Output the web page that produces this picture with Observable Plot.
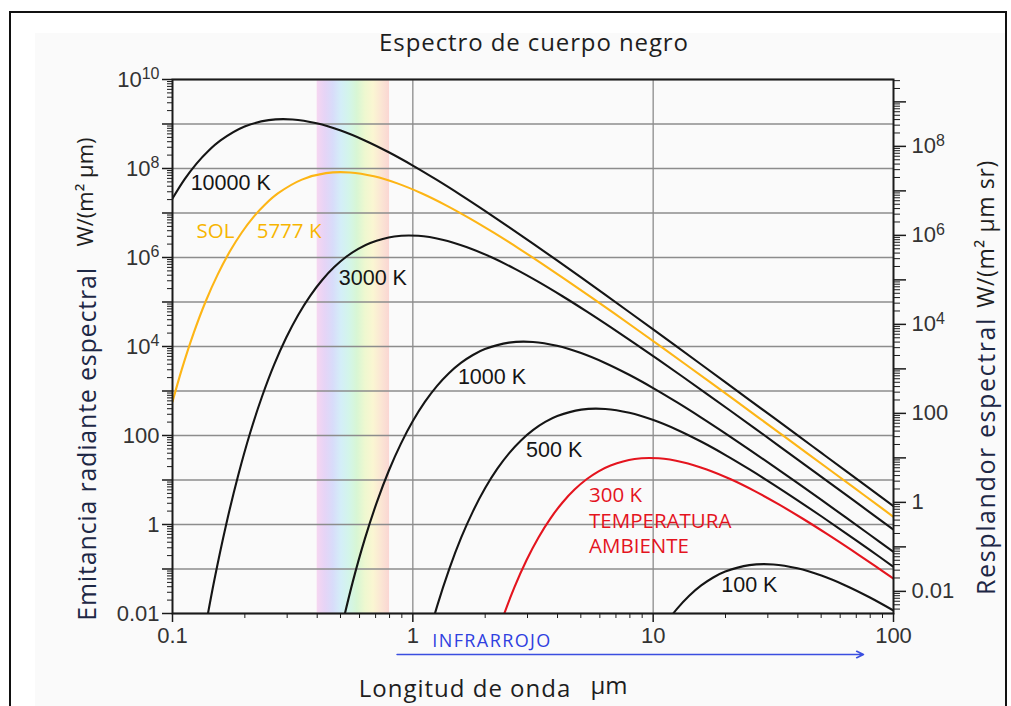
<!DOCTYPE html>
<html><head><meta charset="utf-8">
<script src="https://cdn.jsdelivr.net/npm/d3@7"></script>
<script src="https://cdn.jsdelivr.net/npm/@observablehq/plot@0.6"></script>
<style>
html,body{margin:0;padding:0;background:#fff}
body{position:relative;width:1011px;height:706px;overflow:hidden}
#border{position:absolute;left:9px;top:11px;width:998px;height:760px;border:2px solid #111;box-sizing:border-box}
#panel{position:absolute;left:35px;top:33px;width:970px;height:680px;background:#fafafa}
#chart{position:absolute;left:0;top:0}
.t{position:absolute;white-space:nowrap;font-family:"Open Sans",sans-serif;color:#1e1e1e;line-height:1}
.c{transform:translate(-50%,-50%)}
.r{transform:translate(-50%,-50%) rotate(-90deg)}
</style></head>
<body>
<div id="panel"></div>
<div id="chart"></div>
<div id="border"></div>
<div class="t c" style="left:534px;top:42px;font-size:24px;letter-spacing:0.9px">Espectro de cuerpo negro</div>
<div class="t r" style="left:84px;top:192px;font-size:22px">W/(m² µm)</div>
<div class="t r" style="left:86px;top:444px;font-size:25px;letter-spacing:0.8px;color:#1d2745">Emitancia radiante espectral</div>
<div class="t r" style="left:985px;top:234px;font-size:23px;letter-spacing:0.6px">W/(m² µm sr)</div>
<div class="t r" style="left:985px;top:456px;font-size:25px;letter-spacing:1.6px;color:#1d2745">Resplandor espectral</div>
<div class="t c" style="left:465px;top:688px;font-size:24px;letter-spacing:1px">Longitud de onda</div>
<div class="t c" style="left:609px;top:685px;font-size:24px">µm</div>
<div class="t c" style="left:492px;top:640px;font-size:18px;letter-spacing:1.4px;color:#2f40e0">INFRARROJO</div>
<script>
// Spectral radiant emittance W/(m² µm): [wavelength µm, value]
const curve10000 = [[0.1,2.111e7],[0.1122,5.675e7],[0.12589,1.287e8],[0.14125,2.508e8],[0.15849,4.272e8],[0.19953,8.745e8],[0.25119,1.222e9],[0.31623,1.264e9],[0.39811,1.036e9],[0.50119,7.107e8],[0.63096,4.264e8],[0.79433,2.313e8],[1,1.164e8],[1.2589,5.538e7],[1.5849,2.530e7],[1.9953,1.120e7],[2.5119,4.839e6],[3.1623,2.054e6],[3.9811,8.597e5],[5.0119,3.558e5],[6.3096,1.461e5],[7.9433,5.961e4],[10,2.418e4],[12.589,9775],[15.849,3938],[19.953,1582],[25.119,634.7],[31.623,254.2],[39.811,101.7],[50.119,40.63],[63.096,16.23],[79.433,6.475],[100,2.582]];
const curve5777 = [[0.1,571.1],[0.10922,3016],[0.12255,20210],[0.1375,1.039e5],[0.15429,4.174e5],[0.17311,1.358e6],[0.19424,3.651e6],[0.21794,8.281e6],[0.24453,1.614e7],[0.27437,2.750e7],[0.34541,5.626e7],[0.43485,7.861e7],[0.54745,8.133e7],[0.68919,6.668e7],[0.86766,4.572e7],[1.0922,2.744e7],[1.375,1.488e7],[1.7311,7.486e6],[2.1794,3.565e6],[2.7437,1.628e6],[3.4541,7.203e5],[4.3485,3.113e5],[5.4745,1.322e5],[6.8919,5.531e4],[8.6766,2.289e4],[10.922,9402],[13.75,3835],[17.311,1556],[21.794,628.9],[27.437,253.3],[34.541,101.8],[43.485,40.85],[54.745,16.36],[68.919,6.542],[86.766,2.614],[100,1.484]];
const curve3000 = [[0.1327,1.835e-3],[0.1489,0.05244],[0.16707,0.9786],[0.18746,12.49],[0.21033,113.9],[0.236,763.0],[0.26479,3923],[0.2971,15760],[0.33333,51300],[0.37402,1.379e5],[0.41966,3.127e5],[0.47087,6.095e5],[0.52832,1.038e6],[0.59279,1.567e6],[0.66513,2.125e6],[0.83736,2.969e6],[1.0541,3.071e6],[1.3271,2.518e6],[1.6707,1.727e6],[2.1033,1.036e6],[2.6479,5.62e5],[3.3333,2.828e5],[4.1966,1.346e5],[5.2832,6.15e4],[6.6513,2.721e4],[8.3736,1.176e4],[10.541,4992],[13.271,2089],[16.707,864.6],[21.033,355.0],[26.479,144.8],[33.333,58.76],[41.966,23.75],[52.832,9.57],[66.513,3.846],[83.736,1.543],[100,0.7618]];
const curve1000 = [[0.50119,4.027e-3],[0.56234,0.0514],[0.63096,0.4688],[0.70795,3.141],[0.79433,16.14],[0.89125,64.86],[1,211.1],[1.122,567.5],[1.2589,1287],[1.4125,2508],[1.5849,4272],[1.7783,6449],[1.9953,8745],[2.5119,12220],[3.1623,12640],[3.9811,10360],[5.0119,7107],[6.3096,4264],[7.9433,2313],[10,1164],[12.589,553.8],[15.849,253.0],[19.953,112.0],[25.119,48.39],[31.623,20.54],[39.811,8.597],[50.119,3.558],[63.096,1.461],[79.433,0.5961],[100,0.2418]];
const curve500 = [[1.1247,1.606e-3],[1.2619,0.01465],[1.4159,0.09815],[1.5887,0.5045],[1.7826,2.027],[2,6.597],[2.244,17.74],[2.5179,40.22],[2.8251,78.4],[3.1698,133.6],[3.5566,201.5],[3.9905,273.3],[5.0238,381.8],[6.3246,395.0],[7.9621,323.8],[10.024,222.0],[12.619,133.3],[15.887,72.28],[20,36.36],[25.179,17.31],[31.698,7.91],[39.905,3.499],[50.238,1.513],[63.246,0.642],[79.621,0.2687],[100,0.1122]];
const curve300 = [[2.1033,1.139e-3],[2.36,7.63e-3],[2.6479,0.03923],[2.971,0.1576],[3.3333,0.513],[3.7402,1.379],[4.1966,3.127],[4.7087,6.095],[5.2832,10.38],[5.9279,15.67],[6.6513,21.25],[8.3736,29.69],[10.541,30.71],[13.271,25.18],[16.707,17.27],[21.033,10.36],[26.479,5.62],[33.333,2.828],[41.966,1.346],[52.832,0.615],[66.513,0.2721],[83.736,0.1176],[100,0.06073]];
const curve100 = [[10,2.111e-3],[11.22,5.675e-3],[12.589,0.01287],[14.125,0.02508],[15.849,0.04272],[17.783,0.06449],[19.953,0.08745],[25.119,0.1222],[31.623,0.1264],[39.811,0.1036],[50.119,0.07107],[63.096,0.04264],[79.433,0.02313],[100,0.01164]];

const curveNames = ["10000 K","5777 K","3000 K","1000 K","500 K","300 K","100 K"];
const curveData = [curve10000, curve5777, curve3000, curve1000, curve500, curve300, curve100];
const curveColors = ["#151515","#fdb515","#151515","#151515","#151515","#e4141e","#151515"];

// visible band (µm) and infrared range (µm)
const visibleBand = [{from:0.4, to:0.8}];
const bandColors = ["#f6d6f1","#e6d4f6","#d8dcfa","#d4eef8","#d3f5ea","#d8f6d4","#eef8d0","#faf6d2","#fbe6d4","#fad6d3"];
const infrared = [{from:0.86, to:75}];

// tick values
const xMajor = [0.1, 1, 10, 100];
const xTickLabels = ["0.1","1","10","100"];
const yDecades = d3.range(-2, 11).map(e => Math.pow(10, e));
const yLabelText = {"-2":"0.01","0":"1","2":"100","4":"10^4","6":"10^6","8":"10^8","10":"10^10"};
const rDecades = d3.range(-2, 10).map(e => Math.pow(10, e));
const rLabelText = {"-2":"0.01","0":"1","2":"100","4":"10^4","6":"10^6","8":"10^8"};

// curve labels
const labelText = ["10000 K","SOL","5777 K","3000 K","1000 K","500 K","300 K\nTEMPERATURA\nAMBIENTE","100 K"];
const labelX = [0.119,0.126,0.224,0.492,1.54,2.96,5.41,19.2];
const labelY = [4.6e7,4.26e6,4.26e6,3.37e5,2010,46,1.29,0.0426];
const labelColor = ["#151515","#f7b500","#f7b500","#151515","#151515","#151515","#e4141e","#151515"];
const labelSans = [false,true,true,false,false,false,true,false];

const labels = labelText.map((t,i)=>({text:t, x:labelX[i], y:labelY[i], color:labelColor[i], sans:labelSans[i]}));

const PI = Math.PI;
const minorOf = (lo, hi, scale=1) => {
  const out = [];
  for (let e = -4; e <= 11; e++) for (let k = 2; k <= 9; k++) {
    const v = k*Math.pow(10,e)*scale;
    if (v >= lo && v <= hi) out.push(v);
  }
  return out;
};
const yMinor = minorOf(0.01, 1e10);
const rMinor = minorOf(0.01, 1e10, PI);
const rMajor = rDecades.map(d => d*PI).filter(v => v <= 1e10);
const xMinor = minorOf(0.1, 100);

const lineMarks = curveData.map((pts,i) => Plot.line(pts, {x: d=>d[0], y: d=>d[1], stroke: curveColors[i], strokeWidth: 2.1, curve: "catmull-rom", clip: true}));

const chart = Plot.plot({
  width: 1011, height: 706,
  marginTop: 79, marginBottom: 93, marginLeft: 172, marginRight: 118,
  style: {background: "transparent", fontFamily: "'Liberation Sans', Arial, sans-serif", fontSize: "22px", color: "#333", overflow: "visible"},
  x: {type: "log", domain: [0.1, 100]},
  y: {type: "log", domain: [0.01, 1e10]},
  marks: [
    Plot.rect(visibleBand, {x1: "from", x2: "to", fill: "url(#rainbow)"}),
    Plot.gridY(yDecades, {stroke: "#8c8c8c", strokeOpacity: 1, strokeWidth: 1.3}),
    Plot.gridX([1, 10], {stroke: "#8c8c8c", strokeOpacity: 1, strokeWidth: 1.3}),
    ...lineMarks,
    Plot.frame({stroke: "#1a1a1a", strokeWidth: 2}),
    Plot.axisY(yDecades, {anchor: "left", tickSize: 10, tickPadding: 3, stroke: "#1a1a1a", strokeWidth: 1.5, color: "#333", label: null,
      tickFormat: d => yLabelText[String(Math.round(Math.log10(d)))] || ""}),
    Plot.axisY(yMinor, {anchor: "left", tickSize: 5, stroke: "#1a1a1a", strokeWidth: 1, label: null, tickFormat: () => ""}),
    Plot.axisY(rMajor, {anchor: "right", tickSize: 12, tickPadding: 6, stroke: "#1a1a1a", strokeWidth: 1.5, color: "#333", label: null,
      tickFormat: d => rLabelText[String(Math.round(Math.log10(d/PI)))] || ""}),
    Plot.axisY(rMinor, {anchor: "right", tickSize: 6, stroke: "#1a1a1a", strokeWidth: 1, label: null, tickFormat: () => ""}),
    Plot.axisX(xMajor, {anchor: "bottom", tickSize: 9, tickPadding: 5, stroke: "#1a1a1a", strokeWidth: 1.5, color: "#333", label: null,
      tickFormat: d => xTickLabels[xMajor.indexOf(d)]}),
    Plot.axisX(xMinor, {anchor: "bottom", tickSize: 5, stroke: "#1a1a1a", strokeWidth: 1, label: null, tickFormat: () => ""}),
    Plot.text(labels.filter(d => !d.sans), {x: "x", y: "y", text: "text", fill: "color", textAnchor: "start", fontSize: 21.5, fontFamily: "'Liberation Sans', Arial, sans-serif"}),
    Plot.text(labels.filter(d => d.sans), {x: "x", y: "y", text: "text", fill: "color", textAnchor: "start", lineAnchor: "middle", lineHeight: 1.24, fontSize: 20.5, fontFamily: "'Open Sans', sans-serif"}),
    Plot.arrow(infrared, {x1: "from", x2: "to", y1: 0.01, y2: 0.01, dy: 41, stroke: "#3a4ee0", strokeWidth: 1.6, headLength: 7, headAngle: 50})
  ]
});

const ns = "http://www.w3.org/2000/svg";
const defs = document.createElementNS(ns, "defs");
defs.innerHTML = `<linearGradient id="rainbow" x1="0" x2="1" y1="0" y2="0">` +
  bandColors.map((c,i) => `<stop offset="${i/(bandColors.length-1)}" stop-color="${c}"/>`).join("") + `</linearGradient>`;
chart.insertBefore(defs, chart.firstChild);

chart.querySelectorAll("text").forEach(t => {
  const m = t.textContent.match(/^10\^(-?\d+)$/);
  if (m) {
    t.textContent = "10";
    const ts = document.createElementNS(ns, "tspan");
    ts.setAttribute("dy", "-0.45em");
    ts.setAttribute("font-size", "16");
    ts.textContent = m[1];
    t.appendChild(ts);
  }
});
document.getElementById("chart").appendChild(chart);
</script>
</body></html>
